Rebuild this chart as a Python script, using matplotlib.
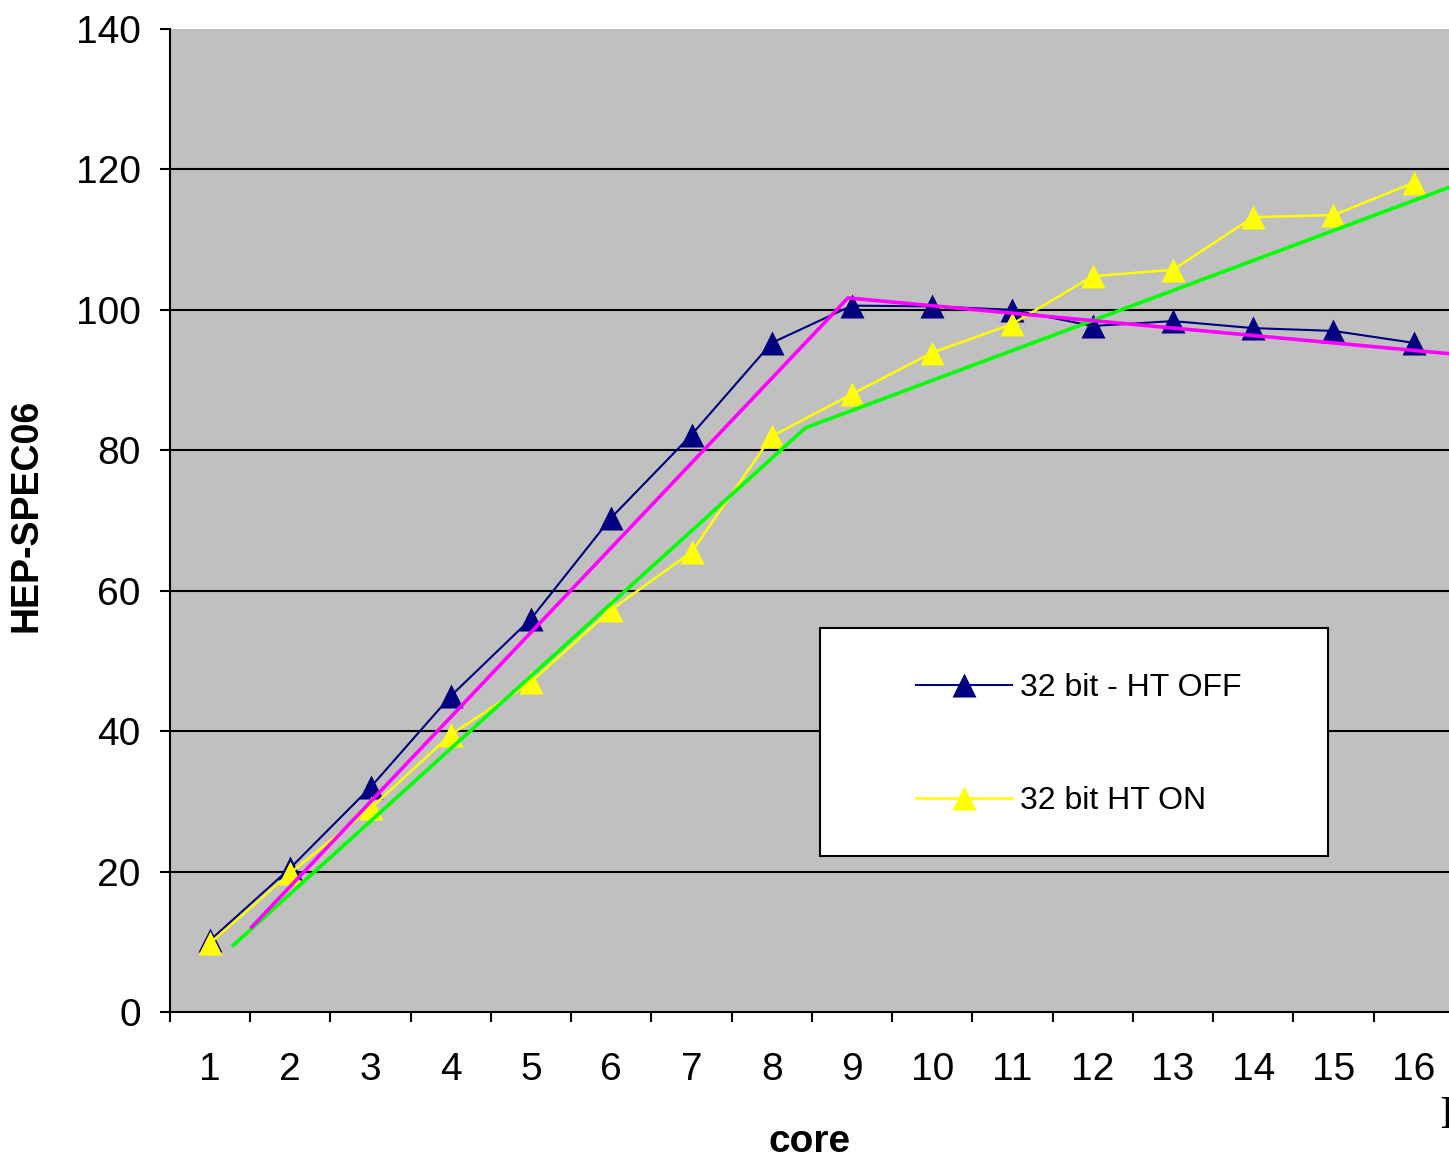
import matplotlib
matplotlib.use("Agg")
import matplotlib.pyplot as plt
from matplotlib.patches import Rectangle

cores = list(range(1, 17))
ht_off = [10.2, 20.5, 32, 45, 56, 70.4, 82.2, 95.3, 100.6, 100.5, 100, 97.7, 98.4, 97.4, 97, 95.3]
ht_on = [9.8, 19.8, 29, 39.5, 47, 57.3, 65.5, 82, 88, 93.9, 98, 104.8, 105.7, 113.2, 113.5, 118.1]

# trend lines drawn on the chart (piecewise)
fit_off_x = [1.52, 8.95, 16.5]
fit_off_y = [12.1, 101.7, 93.7]
fit_on_x = [1.29, 8.42, 16.5]
fit_on_y = [9.5, 83.2, 117.7]

yticks = [0, 20, 40, 60, 80, 100, 120, 140]

plt.rcParams['font.family'] = ['Liberation Sans']

fig = plt.figure(figsize=(14.49, 11.61), dpi=100)
ax = fig.add_axes([0.1173, 0.1284, 0.886, 0.8466])
ax.set_facecolor('#C0C0C0')

ax.plot(cores, ht_off, color='#000080', lw=1.5, marker='^', ms=17, mec='none', label='32 bit - HT OFF', zorder=3)
ax.plot(cores, ht_on, color='#FFFF00', lw=1.8, marker='^', ms=17, mec='none', label='32 bit HT ON', zorder=3)
ax.plot(fit_on_x, fit_on_y, color='#00FF00', lw=2.6, zorder=4)
ax.plot(fit_off_x, fit_off_y, color='#FF00FF', lw=2.6, zorder=4)

ax.set_xlim(0.5, 16.5)
ax.set_ylim(0, 140)
ax.set_yticks(yticks)
ax.set_yticklabels([str(v) for v in yticks])
for v in yticks[1:-1]:
    ax.axhline(v, color='black', lw=1.5, zorder=1)

ax.set_xticks([c + 0.5 for c in [0] + cores])
ax.set_xticklabels([])
ax.set_xticks(cores, minor=True)
ax.set_xticklabels([str(c) for c in cores], minor=True)
ax.tick_params(axis='x', which='major', direction='out', length=7, width=1.5)
ax.tick_params(axis='x', which='minor', length=0, pad=29, labelsize=28)
ax.tick_params(axis='y', direction='out', length=7, width=1.5, pad=14, labelsize=28)

for s in ['top', 'right']:
    ax.spines[s].set_visible(False)
for s in ['left', 'bottom']:
    ax.spines[s].set_linewidth(1.5)

fig.text(0.018, 0.5564, 'HEP-SPEC06', rotation=90, ha='center', va='center', fontsize=27, fontweight='bold')
fig.text(0.559, 0.001, 'core', ha='center', va='bottom', fontsize=28, fontweight='bold')
fig.text(0.9935, 0.028, 'I', family='Liberation Serif', fontsize=34, va='baseline')

ax.add_patch(Rectangle((0.566, 0.2627), 0.3506, 0.1964, transform=fig.transFigure,
                       facecolor='white', edgecolor='black', lw=1.5, zorder=5, clip_on=False))
leg = ax.legend(loc='upper left', bbox_to_anchor=(900 / 1449, 1 - 657 / 1161), bbox_transform=fig.transFigure,
                frameon=False, borderpad=0, handlelength=3.0, handletextpad=0.25, labelspacing=2.6, fontsize=23)
leg.set_zorder(6)

fig.savefig('out.png', dpi=100)
